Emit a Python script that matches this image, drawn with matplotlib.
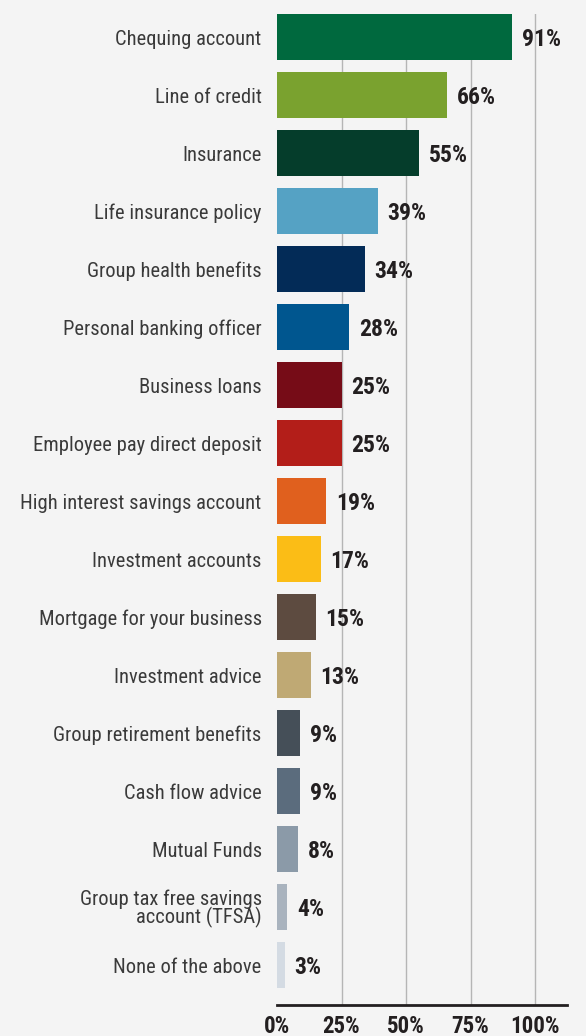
import matplotlib.pyplot as plt
import numpy as np

plt.rcParams['font.family'] = ['Roboto Condensed', 'DejaVu Sans']

# survey answers, top to bottom
labels = ['Chequing account', 'Line of credit', 'Insurance', 'Life insurance policy',
          'Group health benefits', 'Personal banking officer', 'Business loans',
          'Employee pay direct deposit', 'High interest savings account',
          'Investment accounts', 'Mortgage for your business', 'Investment advice',
          'Group retirement benefits', 'Cash flow advice', 'Mutual Funds',
          'Group tax free savings\naccount (TFSA)', 'None of the above']
values = [91, 66, 55, 39, 34, 28, 25, 25, 19, 17, 15, 13, 9, 9, 8, 4, 3]
colors = ['#00693e', '#7aa22f', '#053d2b', '#55a2c4', '#032b57', '#00568f',
          '#760c17', '#b31e19', '#e0601e', '#fbbd16', '#5d4b40', '#bfa974',
          '#454f58', '#5b6c7d', '#8b9aa8', '#a9b3be', '#d4dbe3']
ticks = [0, 25, 50, 75, 100]

bg = '#f4f4f4'
fig = plt.figure(figsize=(5.86, 10.36), dpi=100, facecolor=bg)
ax = fig.add_axes([0.4727, 0.0299, 0.4949, 0.9566], facecolor=bg)

y = np.arange(len(labels))
ax.barh(y, values, height=0.8, color=colors, zorder=2)

for t in ticks[1:]:
    ax.axvline(t, color='#b5b5b5', lw=1, zorder=1)

# percentage next to each bar
for yi, v in zip(y, values):
    ax.text(v + 3.8, yi + 0.04, f'{v}%', va='center', ha='left', fontsize=17,
            fontweight='bold', color='#231f20', zorder=3)

ax.set_xlim(0, 112.4)
ax.set_ylim(16.69, -0.4)
ax.set_yticks(y)
ax.set_yticklabels(labels, fontsize=14.8, color='#3a3a3a', linespacing=0.9)
ax.set_xticks(ticks)
ax.set_xticklabels([f'{t}%' for t in ticks], fontsize=16.5, fontweight='bold',
                   color='#231f20')
ax.tick_params(axis='y', length=0, pad=11)
ax.tick_params(axis='x', length=0, pad=7)

for s in ['top', 'right', 'left']:
    ax.spines[s].set_visible(False)
ax.spines['bottom'].set_color('#231f20')
ax.spines['bottom'].set_linewidth(2)

fig.savefig('out.png', dpi=100, facecolor=bg)
